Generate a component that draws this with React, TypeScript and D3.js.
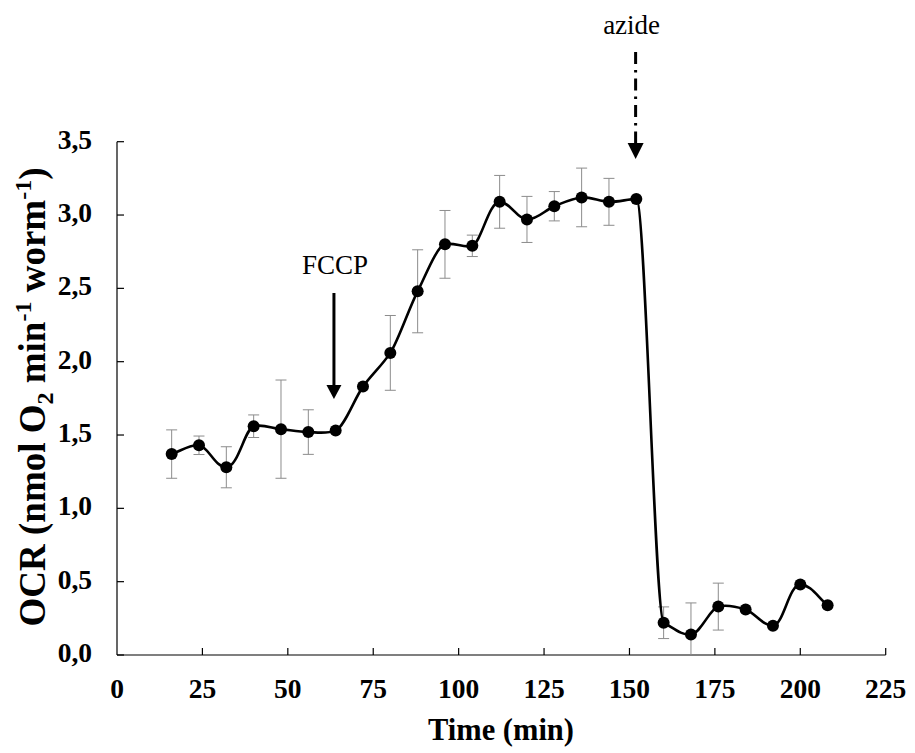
import React from "react";
import * as d3 from "d3";

// ---- data ----
const times = [16, 24, 32, 40, 48, 56, 64, 72, 80, 88, 96, 104, 112, 120, 128, 136, 144, 152, 160, 168, 176, 184, 192, 200, 208];
const ocr = [1.37, 1.43, 1.28, 1.56, 1.54, 1.52, 1.53, 1.83, 2.06, 2.48, 2.8, 2.79, 3.09, 2.97, 3.06, 3.12, 3.09, 3.11, 0.22, 0.14, 0.33, 0.31, 0.2, 0.48, 0.34];
const sd: (number | null)[] = [0.165, 0.063, 0.14, 0.077, 0.335, 0.152, null, null, 0.255, 0.283, 0.231, 0.073, 0.18, 0.157, 0.1, 0.2, 0.16, null, 0.108, 0.215, 0.16, null, null, null, null];
const xTicks = [0, 25, 50, 75, 100, 125, 150, 175, 200, 225];
const yTicks = [0, 0.5, 1, 1.5, 2, 2.5, 3, 3.5];
const fccpTime = 63.5;
const azideTime = 151.8;

// smoothed path (Excel-like): tangent direction dominated by the shorter neighbour segment,
// control-arm length limited by the shorter segment
function smoothPath(pts: [number, number][]): string {
  const p = d3.path();
  const n = pts.length;
  const tang: [number, number][] = [];
  const arm: number[] = [];
  for (let i = 0; i < n; i++) {
    const prev = pts[Math.max(0, i - 1)];
    const next = pts[Math.min(n - 1, i + 1)];
    const ax = pts[i][0] - prev[0], ay = pts[i][1] - prev[1];
    const bx = next[0] - pts[i][0], by = next[1] - pts[i][1];
    const la = Math.hypot(ax, ay), lb = Math.hypot(bx, by);
    let tx = 0, ty = 0;
    if (la > 0) { tx += ax / (la * la); ty += ay / (la * la); }
    if (lb > 0) { tx += bx / (lb * lb); ty += by / (lb * lb); }
    const lt = Math.hypot(tx, ty) || 1;
    tang.push([tx / lt, ty / lt]);
    const m = la > 0 && lb > 0 ? Math.min(la, lb) : Math.max(la, lb);
    arm.push(m / 3);
  }
  p.moveTo(pts[0][0], pts[0][1]);
  for (let i = 0; i < n - 1; i++) {
    const a = pts[i], b = pts[i + 1];
    const c1x = a[0] + tang[i][0] * arm[i], c1y = a[1] + tang[i][1] * arm[i];
    const c2x = b[0] - tang[i + 1][0] * arm[i + 1], c2y = b[1] - tang[i + 1][1] * arm[i + 1];
    p.bezierCurveTo(c1x, c1y, c2x, c2y, b[0], b[1]);
  }
  return p.toString();
}

export default function App() {
  const W = 915, H = 753;
  const x = d3.scaleLinear().domain([0, 225]).range([117, 885.7]);
  const y = d3.scaleLinear().domain([0, 3.5]).range([655, 141.7]);
  const pts = times.map((t, i) => [x(t), y(ocr[i])] as [number, number]);
  const line = smoothPath(pts);
  const fmt = (v: number) => d3.format(".1f")(v).replace(".", ",");
  const serif = "'Liberation Serif', 'Times New Roman', serif";
  const tick = 7;
  const fx = x(fccpTime);
  const ax = x(azideTime);

  return (
    <svg width={W} height={H} style={{ position: "absolute", left: 0, top: 0, background: "#fff" }} fontFamily={serif}>
      <rect width={W} height={H} fill="#fff" />
      {/* axes */}
      <line x1={x(0)} x2={x(0)} y1={y(3.5)} y2={y(0)} stroke="#000" strokeWidth={1.2} />
      <line x1={x(0)} x2={x(225)} y1={y(0)} y2={y(0)} stroke="#000" strokeWidth={1.2} />
      {yTicks.map((v) => (
        <g key={"y" + v}>
          <line x1={x(0)} x2={x(0) + tick} y1={y(v)} y2={y(v)} stroke="#000" strokeWidth={1.2} />
          <text x={92} y={y(v) + 7} textAnchor="end" fontSize={27.5} fontWeight="bold">{fmt(v)}</text>
        </g>
      ))}
      {xTicks.map((v) => (
        <g key={"x" + v}>
          {v > 0 && <line x1={x(v)} x2={x(v)} y1={y(0)} y2={y(0) - tick} stroke="#000" strokeWidth={1.2} />}
          <text x={x(v)} y={698} textAnchor="middle" fontSize={27.5} fontWeight="bold">{v}</text>
        </g>
      ))}
      {/* titles */}
      <text x={501} y={740} textAnchor="middle" fontSize={30.5} fontWeight="bold">Time (min)</text>
      <text transform={`translate(45,${397}) rotate(-90)`} textAnchor="middle" fontSize={37} fontWeight="bold">
        OCR (nmol O<tspan fontSize={24} dy={8}>2</tspan>
        <tspan dy={-8}> min</tspan>
        <tspan fontSize={24} dy={-14}>-1</tspan>
        <tspan dy={14}> worm</tspan>
        <tspan fontSize={24} dy={-14}>-1</tspan>
        <tspan dy={14}>)</tspan>
      </text>
      {/* error bars */}
      {times.map((t, i) => {
        const e = sd[i];
        if (e == null) return null;
        const cx = x(t);
        const top = y(ocr[i] + e);
        const lo = Math.max(0, ocr[i] - e);
        const bot = y(lo);
        return (
          <g key={"e" + i} stroke="#8c8c8c" strokeWidth={1}>
            <line x1={cx} x2={cx} y1={top} y2={bot} />
            <line x1={cx - 5.5} x2={cx + 5.5} y1={top} y2={top} />
            {lo > 0 && <line x1={cx - 5.5} x2={cx + 5.5} y1={bot} y2={bot} />}
          </g>
        );
      })}
      {/* line + markers */}
      <path d={line} fill="none" stroke="#000" strokeWidth={2.6} />
      {pts.map((p, i) => (
        <circle key={"c" + i} cx={p[0]} cy={p[1]} r={6} fill="#000" />
      ))}
      {/* FCCP annotation */}
      <text x={fx + 1} y={274} textAnchor="middle" fontSize={27}>FCCP</text>
      <line x1={fx} x2={fx} y1={293} y2={388} stroke="#000" strokeWidth={3} />
      <path d={`M${fx - 7.5},${385} L${fx + 7.5},${385} L${fx},${399} Z`} fill="#000" />
      {/* azide annotation */}
      <text x={ax - 4} y={34} textAnchor="middle" fontSize={27}>azide</text>
      <line x1={ax} x2={ax} y1={52} y2={145} stroke="#000" strokeWidth={3} strokeDasharray="12,6,2.5,6" />
      <path d={`M${ax - 8},${143} L${ax + 8},${143} L${ax},${159} Z`} fill="#000" />
    </svg>
  );
}
